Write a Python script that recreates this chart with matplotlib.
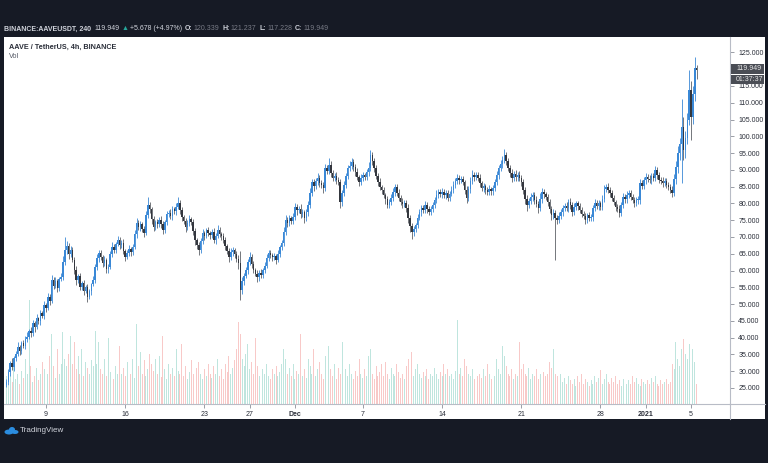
import matplotlib
matplotlib.use('Agg')
import matplotlib.pyplot as plt
import matplotlib.dates as mdates
from matplotlib.patches import Rectangle, Ellipse
from matplotlib.lines import Line2D
import numpy as np
import pandas as pd

plt.rcParams['font.family'] = ['Liberation Sans', 'DejaVu Sans']

# ---------------- data (4h candles, AAVE/USDT) ----------------
start_time = '2020-11-05 12:00'
first_open = 25.8
closes = [
    26.9, 29.8, 32.5, 31.2, 33.9, 35.1, 37.2, 36.0, 38.4, 37.6,
    39.5, 40.2, 42.1, 41.3, 44.4, 43.2, 45.8, 44.9, 47.4, 46.5,
    49.6, 48.8, 52.2, 51.0, 57.2, 55.4, 56.8, 54.9, 57.5, 58.1,
    62.4, 66.1, 67.3, 65.0, 66.2, 63.2, 60.1, 57.2, 58.4, 55.1,
    56.3, 54.0, 55.2, 52.2, 53.8, 55.9, 57.2, 61.0, 63.6, 65.2,
    64.0, 62.3, 63.1, 60.4, 61.1, 64.8, 67.0, 66.2, 68.0, 69.1,
    67.5, 68.3, 65.9, 64.1, 65.3, 66.4, 65.5, 67.0, 70.8, 74.2,
    73.0, 73.9, 72.4, 71.2, 76.5, 79.6, 78.2, 75.4, 73.0, 74.6,
    73.8, 75.1, 74.0, 72.1, 74.5, 76.8, 77.2, 76.4, 78.3, 77.6,
    79.0, 80.2, 78.1, 76.0, 74.8, 73.0, 74.2, 75.3, 74.5, 71.8,
    69.1, 67.5, 66.1, 68.7, 71.2, 70.3, 72.0, 71.2, 70.5, 71.6,
    69.1, 70.4, 72.1, 71.0, 70.2, 69.1, 67.3, 65.8, 64.1, 65.4,
    66.1, 64.9, 63.5, 62.2, 54.2, 56.8, 58.5, 60.2, 62.6, 64.1,
    62.0, 60.3, 59.1, 58.1, 59.4, 58.8, 60.2, 61.5, 63.7, 65.2,
    64.6, 63.9, 64.4, 63.2, 65.0, 66.9, 68.1, 71.6, 75.1, 74.2,
    75.6, 74.9, 76.0, 79.0, 77.9, 78.4, 76.8, 77.5, 75.7, 77.3,
    79.6, 83.2, 86.4, 85.1, 86.6, 87.6, 86.2, 85.4, 84.6, 90.6,
    89.8, 91.5, 89.2, 87.6, 88.3, 87.1, 86.4, 80.5, 83.0, 85.5,
    88.2, 90.6, 91.3, 92.4, 90.8, 89.4, 87.8, 86.4, 87.6, 88.5,
    87.9, 89.4, 90.6, 94.5, 92.7, 90.6, 88.3, 86.4, 84.8, 83.9,
    82.5, 81.2, 79.6, 80.4, 81.6, 83.5, 85.0, 83.2, 81.7, 80.5,
    79.8, 80.2, 78.6, 75.7, 73.4, 71.5, 72.4, 73.6, 75.8, 77.4,
    78.6, 78.1, 79.6, 78.4, 77.5, 78.3, 79.6, 80.9, 82.6, 83.4,
    82.8, 83.4, 82.5, 83.0, 81.6, 82.9, 84.1, 85.5, 86.8, 87.6,
    86.9, 87.3, 86.4, 84.0, 81.6, 84.2, 86.7, 88.5, 87.9, 88.4,
    87.6, 86.0, 84.6, 85.1, 84.0, 83.4, 84.2, 83.6, 84.6, 86.3,
    88.4, 90.6, 91.8, 93.0, 94.5, 92.6, 90.6, 89.1, 87.6, 88.9,
    87.8, 88.5, 87.5, 86.4, 84.0, 81.2, 79.6, 80.8, 81.9, 82.5,
    81.0, 79.8, 78.6, 81.2, 83.4, 82.7, 81.9, 80.5, 78.4, 76.6,
    77.2, 75.8, 75.1, 76.3, 77.5, 78.6, 79.3, 78.7, 80.5, 79.4,
    77.5, 78.9, 80.0, 79.2, 78.1, 77.0, 76.2, 75.1, 76.5, 75.7,
    76.0, 78.6, 80.2, 79.3, 80.0, 79.0, 81.4, 84.2, 85.0, 84.1,
    83.1, 81.6, 80.4, 79.0, 78.3, 77.2, 79.5, 82.0, 81.2, 82.4,
    83.1, 82.0, 81.1, 80.2, 80.9, 81.0, 86.1, 85.2, 86.9, 87.9,
    87.3, 87.0, 88.2, 87.6, 90.0, 88.4, 87.0, 86.8, 86.1, 86.7,
    85.6, 85.0, 84.0, 83.1, 87.4, 90.9, 95.0, 97.8, 102.8, 95.9,
    99.6, 104.9, 113.8, 105.8, 112.5, 120.3, 119.9,
]
upper_wick = [
    .8, 1.0, .6, 1.3, .5, .9, 1.4, .7, .6, 1.0,
    .9, 1.5, .6, 1.1, .8, .7, 1.3, .5, .9, .6,
    1.2, .8, 1.0, .7, 1.6, .9, 1.2, .8, .6, 1.1,
    1.8, 3.9, 1.4, .8, 1.0, .9, .7, 1.2, .6, .8,
    .7, 1.0, .6, .9, .8, .5, 1.1, .9, 1.3, 1.0,
    .8, .6, 1.2, .7, .9, 1.0, 1.4, .8, .6, 1.2,
    .9, .7, 1.0, .6, .8, 1.1, .7, .9, 1.2, 1.5,
    .8, 1.0, .6, .9, 1.3, 2.2, .8, .7, 1.0, .6,
    .9, .8, 1.1, .7, .6, 1.0, .9, 1.2, .8, .7,
    1.0, 1.8, .9, .7, .6, 1.0, .8, 1.2, .7, .9,
    .8, .6, 1.0, .9, 1.2, .7, .8, 1.0, .6, .9,
    1.1, .7, 1.4, .8, .6, .9, 1.0, .7, .8, 1.2,
    .9, .6, .8, 1.0, 3.5, 1.2, .8, 1.0, .9, 1.3,
    .7, .9, .6, 1.0, .8, 1.1, .7, .9, 1.2, .8,
    1.0, .7, .9, .6, 1.1, .8, 1.0, 1.3, 1.6, .9,
    1.1, .8, 1.2, 1.0, .7, .9, 1.3, .8, .6, 1.0,
    1.2, 1.5, 1.0, .8, 1.1, 1.4, .9, .7, 1.0, 1.3,
    .8, 1.9, 1.0, .7, .9, 1.2, .8, 1.0, .9, 1.1,
    1.0, .8, 1.2, 1.0, .7, .9, 1.1, .8, 1.3, .9,
    .7, 1.0, 1.6, 1.5, .9, .8, 1.0, .7, 1.2, .8,
    .9, .7, 1.0, .8, 1.1, 1.0, .9, .7, 1.2, .8,
    1.0, .9, .7, 1.1, .8, .9, 1.0, .7, 1.2, .9,
    1.0, .8, 1.2, .9, .7, 1.0, .8, 1.1, 1.3, .9,
    1.0, 1.2, .8, .9, 1.1, .7, 1.0, 1.3, .9, 1.2,
    .8, 1.0, .9, .7, 1.1, 1.0, 1.2, 1.5, .8, 1.0,
    .9, 1.1, .7, 1.0, .8, .9, 1.2, .8, 1.0, 1.1,
    1.3, .9, 1.0, 1.2, 1.6, .8, 1.0, .9, 1.1, .7,
    1.0, .8, 1.2, .9, 1.0, .8, 1.3, .9, 1.1, 1.0,
    .8, 1.2, 1.0, 1.8, 1.1, .9, .8, 1.0, .9, .7,
    1.0, .9, .8, 1.1, .7, 1.0, .9, 1.2, .8, 1.0,
    .9, 1.1, .8, .7, 1.0, .9, .8, 1.0, .7, .9,
    1.0, .8, 1.2, .9, 1.0, .8, 1.1, 1.4, .9, 1.0,
    .8, .9, 1.0, .7, .9, 1.1, .8, 1.0, .9, 1.2,
    .8, 1.0, .9, .7, 1.0, 1.2, 1.1, .9, 1.0, 1.3,
    .9, 1.1, 1.0, .8, 1.2, .9, 1.0, .8, 1.1, .9,
    1.0, .8, .9, 1.1, 1.4, 1.8, 2.0, 1.6, 8.2, 3.0,
    2.0, 2.2, 6.0, 2.8, 2.5, 3.4, 0.9,
]
lower_wick = [
    .6, .9, 1.2, .7, 1.0, .8, .6, 1.3, .9, .7,
    1.1, .8, .6, 1.0, .9, 1.4, .7, .8, 1.2, .6,
    .9, 1.1, .7, 1.3, .8, 1.0, .6, 1.2, .9, .7,
    1.0, .8, 1.2, 1.6, .9, .7, 1.1, 1.4, .8, 1.0,
    .9, 1.2, .7, 1.5, .8, 1.0, .6, .9, .7, 1.1,
    .8, 1.3, .9, 1.0, 1.2, .7, .8, 1.0, .9, .6,
    1.1, .8, 1.0, 1.4, .7, .9, 1.2, .8, .6, 1.0,
    .9, 1.1, .8, 1.3, .7, .9, 1.0, 1.4, 1.2, .8,
    1.0, .7, 1.3, 1.1, .8, .9, .7, 1.0, 1.2, .8,
    .9, .7, 1.1, 1.3, 1.0, 1.5, .8, .9, 1.0, 1.2,
    1.4, 1.0, 1.6, .8, .9, 1.1, .7, 1.0, 1.2, .8,
    .9, 1.3, .7, 1.0, 1.1, .8, 1.2, 1.0, 1.5, .9,
    1.0, 1.2, .9, 1.6, 3.0, 1.3, 1.0, .8, 1.1, .9,
    1.2, 1.0, .8, 1.5, 1.1, .9, 1.0, .8, .7, 1.0,
    .9, 1.1, .8, 1.2, .7, 1.0, .9, .8, 1.0, 1.3,
    .8, 1.1, .9, 1.0, 1.2, .8, 1.0, .9, 1.4, 1.0,
    .9, 1.1, 1.0, 1.3, .8, 1.0, 1.2, .9, 1.4, 1.0,
    1.1, .9, 1.2, 1.0, .8, 1.3, 1.0, 2.0, 1.2, .9,
    1.0, .8, .9, 1.1, 1.0, 1.2, .9, 1.3, 1.0, .8,
    1.0, .9, 1.1, 1.0, 1.2, 1.3, 1.0, 1.1, .9, 1.2,
    1.0, 1.4, 1.1, .9, 1.0, .8, 1.2, 1.0, 1.1, .9,
    1.2, 1.0, 1.3, 1.5, 1.8, 2.0, 1.1, .9, 1.0, .8,
    1.1, .9, 1.0, 1.2, .8, 1.0, .9, 1.1, .8, 1.0,
    .9, 1.1, 1.0, 1.2, .9, 1.0, .8, 1.1, .9, 1.0,
    1.2, .9, 1.0, 1.1, 1.5, .9, 1.0, .8, 1.1, .9,
    1.0, 1.2, .9, 1.1, 1.3, 1.0, .9, 1.1, 1.0, .8,
    .9, 1.0, .8, 1.1, .9, 1.2, 1.0, 1.3, 1.1, .9,
    1.0, 1.2, .9, 1.1, 1.3, 1.5, 1.8, 1.0, .9, 1.1,
    1.2, 1.0, 1.4, .9, 1.0, 1.1, .9, 1.2, 1.3, 1.5,
    1.2, 12.6, 1.3, 1.0, .9, 1.1, 1.0, .9, 1.2, 1.0,
    1.1, .9, 1.0, 1.2, 1.0, 1.1, .9, 1.3, 1.0, .9,
    1.0, 1.1, .9, 1.0, 1.2, .9, 1.0, 1.1, .9, 1.0,
    1.1, 1.0, .9, 1.2, 1.0, 1.3, 1.0, .9, 1.1, 1.0,
    .9, 1.1, 1.0, 1.2, .9, 1.0, 1.1, .9, 1.0, 1.2,
    1.0, .9, 1.1, 1.0, .8, 1.1, .9, 1.0, 1.2, 1.0,
    .9, 1.1, 1.0, 1.3, 1.0, 1.5, 1.8, 2.0, 11.8, 3.0,
    2.5, 2.0, 1.5, 6.8, 2.2, 2.0, 2.7,
]
volumes = [
    28, 18, 35, 22, 40, 25, 30, 20, 33, 26,
    45, 30, 104, 38, 22, 28, 36, 24, 30, 42,
    35, 25, 30, 48, 70, 38, 26, 55, 30, 40,
    72, 45, 38, 50, 68, 40, 62, 35, 48, 30,
    55, 28, 42, 36, 30, 44, 38, 73, 40, 62,
    35, 30, 45, 28, 66, 32, 40, 25, 38, 30,
    58, 30, 36, 28, 42, 35, 30, 45, 26, 80,
    38, 52, 30, 44, 28, 35, 50, 40, 33, 45,
    30, 48, 27, 68, 35, 25, 40, 30, 36, 28,
    55, 33, 30, 60, 28, 38, 25, 32, 44, 30,
    50, 36, 42, 30, 25, 35, 28, 40, 30, 26,
    38, 30, 45, 28, 35, 25, 40, 32, 48, 30,
    36, 44, 55, 82, 70, 45, 38, 50, 60, 35,
    42, 30, 66, 38, 28, 44, 35, 30, 40, 28,
    25, 35, 30, 38, 28, 32, 40, 55, 45, 30,
    36, 28, 40, 25, 33, 30, 70, 28, 35, 26,
    45, 38, 30, 55, 28, 35, 42, 30, 25, 48,
    30, 58, 35, 28, 40, 25, 36, 30, 62, 38,
    35, 28, 40, 30, 25, 33, 28, 45, 30, 26,
    35, 28, 48, 55, 30, 25, 38, 28, 32, 40,
    28, 42, 30, 25, 36, 30, 28, 40, 32, 26,
    30, 25, 38, 45, 30, 52, 28, 35, 40, 30,
    26, 32, 28, 35, 25, 30, 28, 36, 30, 25,
    32, 28, 40, 30, 35, 28, 30, 25, 33, 84,
    30, 36, 28, 45, 38, 30, 28, 35, 25, 32,
    28, 30, 26, 35, 28, 40, 30, 25, 33, 28,
    45, 35, 30, 58, 48, 38, 30, 28, 35, 25,
    30, 28, 62, 35, 40, 30, 28, 36, 25, 30,
    28, 35, 25, 30, 26, 32, 28, 30, 42, 36,
    55, 30, 28, 25, 30, 22, 26, 20, 28, 24,
    20, 25, 18, 28, 22, 30, 20, 25, 22, 18,
    24, 20, 28, 22, 26, 34, 20, 25, 30, 22,
    20, 26, 22, 28, 20, 24, 18, 25, 22, 20,
    24, 20, 28, 22, 26, 20, 18, 25, 22, 20,
    24, 20, 26, 22, 28, 20, 18, 24, 20, 22,
    25, 20, 22, 40, 35, 62, 45, 38, 55, 65,
    50, 45, 60, 35, 55, 42, 20,
]
tick_dates = ['2020-11-09', '2020-11-16', '2020-11-23', '2020-11-27', '2020-12-01',
              '2020-12-07', '2020-12-14', '2020-12-21', '2020-12-28', '2021-01-01',
              '2021-01-05']
tick_labels = ['9', '16', '23', '27', 'Dec', '7', '14', '21', '28', '2021', '5']
price_ticks = [25, 30, 35, 40, 45, 50, 55, 60, 65, 70, 75, 80, 85, 90, 95,
               100, 105, 110, 115, 120, 125]
last_price = '119.949'
countdown = '01:37:37'
# (text, weight, colour, gap in px before the next part)
header_parts = [('BINANCE:AAVEUSDT, 240', 'bold', '#d1d4dc', 3),
                ('119.949', 'normal', '#d1d4dc', 2),
                ('\u25b2', 'normal', '#26a69a', 2),
                ('+5.678 (+4.97%)', 'normal', '#d1d4dc', 3),
                ('O:', 'bold', '#d1d4dc', 1), ('120.339', 'normal', '#787b86', 3),
                ('H:', 'bold', '#d1d4dc', 1), ('121.237', 'normal', '#787b86', 3),
                ('L:', 'bold', '#d1d4dc', 1), ('117.228', 'normal', '#787b86', 3),
                ('C:', 'bold', '#d1d4dc', 1), ('119.949', 'normal', '#787b86', 3)]

# ---------------- figure ----------------
W, H = 768, 463
BG = '#161a25'
fig = plt.figure(figsize=(7.68, 4.63), dpi=100, facecolor=BG)


def fx(px):
    return px / W


def fy(py):
    return 1 - py / H


fig.patches.append(Rectangle((fx(4), fy(419)), fx(765) - fx(4), fy(37) - fy(419),
                             transform=fig.transFigure, facecolor='white',
                             edgecolor='none', zorder=-10))

rect = [fx(4), fy(404), fx(730) - fx(4), fy(37) - fy(404)]
vax = fig.add_axes(rect, facecolor='white')
vax.set_zorder(1)
ax = fig.add_axes(rect, facecolor='none')
ax.set_zorder(2)

n = min(len(closes), len(upper_wick), len(lower_wick), len(volumes))
c = np.array(closes[:n], dtype=float)
o = np.r_[first_open, c[:-1]]
hi = np.maximum(o, c) + np.array(upper_wick[:n])
lo = np.minimum(o, c) - np.array(lower_wick[:n])
times = pd.date_range(start_time, periods=n, freq='4h')
x = mdates.date2num(times.to_pydatetime())
up = c >= o

UP, DOWN = '#3a88d6', '#34373e'
VUP, VDOWN = '#bfe5de', '#f8c9c8'

nov9 = mdates.date2num(pd.Timestamp('2020-11-09').to_pydatetime())
pxday = 11.316
xlim = (nov9 - 42 / pxday, nov9 + 684 / pxday)

# volume
vax.bar(x, volumes[:n], width=0.085, color=np.where(up, VUP, VDOWN), linewidth=0)
vax.set_xlim(*xlim)
vax.set_ylim(0, 367)
vax.set_xticks([])
vax.set_yticks([])
for s in vax.spines.values():
    s.set_visible(False)

# candles
ax.vlines(x, lo, hi, colors=np.where(up, UP, '#5d6067'), linewidth=0.6, zorder=2)
ax.bar(x, np.maximum(np.abs(c - o), 0.3), bottom=np.minimum(o, c), width=0.13,
       color=np.where(up, UP, DOWN), linewidth=0, zorder=3)

ax.set_xlim(*xlim)
ax.set_ylim(20.23, 129.6)

for s in ['top', 'left']:
    ax.spines[s].set_visible(False)
for s in ['right', 'bottom']:
    ax.spines[s].set_color('#b8bcc6')
    ax.spines[s].set_linewidth(0.8)

ax.yaxis.tick_right()
ax.set_yticks(price_ticks)
# the 120 label sits behind the last-price badge, as in the screenshot
ax.set_yticklabels(['' if v == 120 else f'{v:.3f}' for v in price_ticks])
ax.tick_params(axis='y', length=3, width=0.6, color='#8a8e98', labelsize=5,
               labelcolor='#2a2e39', pad=3)

ax.set_xticks([mdates.date2num(pd.Timestamp(d).to_pydatetime()) for d in tick_dates])
ax.set_xticklabels(tick_labels)
ax.tick_params(axis='x', length=3, width=0.6, color='#8a8e98', labelsize=5,
               labelcolor='#2a2e39', pad=2)
for t in ax.get_xticklabels():
    if t.get_text() in ('2021', 'Dec'):
        t.set_fontweight('bold')

# extend separator lines into the axis gutters
fig.add_artist(Line2D([fx(730), fx(730)], [fy(404), fy(419)], color='#b8bcc6', lw=0.8))
fig.add_artist(Line2D([fx(730), fx(765)], [fy(404), fy(404)], color='#b8bcc6', lw=0.8))

# last price / countdown labels
for (y0, y1, txt) in [(64, 74, last_price), (74.5, 84, countdown)]:
    fig.patches.append(Rectangle((fx(731), fy(y1)), fx(764) - fx(731), fy(y0) - fy(y1),
                                 transform=fig.transFigure, facecolor='#4a4d55',
                                 edgecolor='none', zorder=5))
    fig.text(fx(736), fy((y0 + y1) / 2), txt, color='#e8e8e8', fontsize=5,
             va='center', ha='left', zorder=6)

# titles
fig.text(fx(9), fy(47), 'AAVE / TetherUS, 4h, BINANCE', fontsize=5.2,
         fontweight='bold', color='#2a2e39', va='center', ha='left', zorder=6)
fig.text(fx(9), fy(57), 'Vol', fontsize=5.2, color='#555a66', va='center', ha='left',
         zorder=6)

# header line, parts chained left to right by their measured widths
renderer = fig.canvas.get_renderer()
px = 4.0
for txt, wt, col, gap in header_parts:
    t = fig.text(fx(px), fy(29), txt, fontsize=5.0, fontweight=wt, color=col,
                 va='center', ha='left')
    bb = t.get_window_extent(renderer=renderer)
    px += bb.width + gap

# TradingView logo
for (cx, cy, w, h) in [(9, 432, 9, 5), (12, 429.5, 6, 5), (15, 432, 7, 4)]:
    fig.patches.append(Ellipse((fx(cx), fy(cy)), fx(w), h / H,
                               transform=fig.transFigure, facecolor='#2b8de0',
                               edgecolor='none'))
fig.text(fx(20), fy(430.5), 'TradingView', fontsize=5.8, color='#d1d4dc',
         va='center', ha='left')

fig.savefig('out.png', dpi=100, facecolor=BG)
